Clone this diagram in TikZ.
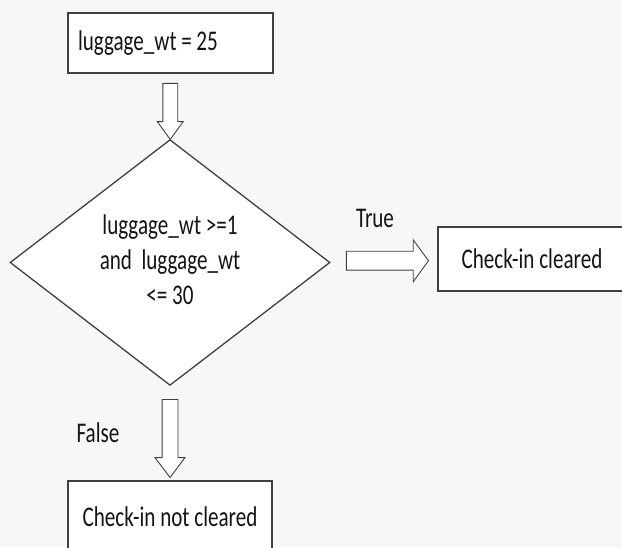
\documentclass[tikz,border=0pt]{standalone}
\usepackage{fontspec}
\setmainfont{Carlito}
\usepackage{xcolor}
\usetikzlibrary{positioning,calc,shapes.geometric,shapes.arrows}
\definecolor{bggray}{HTML}{F7F7F7}
\definecolor{linegray}{HTML}{404040}
\definecolor{textcol}{HTML}{141414}
% the lettering in the original is stretched upward
\newcommand{\tallt}[1]{\scalebox{1}[1.35]{#1}}

\begin{document}
\begin{tikzpicture}[x=1pt,y=1pt,
  font=\fontsize{21.1}{26}\selectfont,text=textcol,
  box/.style={draw=linegray,line width=1.3pt,fill=white,inner sep=0pt},
  decision/.style={diamond,draw=linegray,line width=1.3pt,fill=white,inner sep=0pt,
    minimum width=320pt,minimum height=240pt},
  blockarrow/.style={single arrow,draw=linegray,line width=0.9pt,fill=white,inner xsep=0pt}]
  \useasboundingbox (0,0) rectangle (622,547);
  \fill[bggray] (0,0) rectangle (622,547);
  \clip (0,0) rectangle (622,547);
  % boxes
  \node[box,minimum width=205pt,minimum height=60pt,text width=185pt,align=left]
        (wt) at (170.5,504) {\tallt{luggage\_wt\kern0.22em=\kern0.22em25}};
  \node[decision] (chk) at (170,284.5)
        {\tallt{\begin{tabular}{@{}c@{}}luggage\_wt >=1\\and\ \ luggage\_wt\\<= 30\end{tabular}}};
  \node[box,minimum width=188pt,minimum height=64pt] (ok) at (532,288) {\tallt{Check-in cleared}};
  \node[box,minimum width=204pt,minimum height=72pt] (notok) at (170,30) {\tallt{Check-in not cleared}};
  % hollow arrows between the boxes
  \node[blockarrow,rotate=-90,minimum height=56pt,inner ysep=7pt,
        single arrow head extend=5.5pt,single arrow tip angle=72]
        (a1) at ($(wt.south)!0.5!(chk.north)$) {};
  \node[blockarrow,minimum height=82pt,inner ysep=9pt,
        single arrow head extend=11.5pt,single arrow tip angle=108]
        (a2) at ($(chk.east)!0.5!(ok.west)$) {};
  \node[blockarrow,rotate=-90,minimum height=78pt,inner ysep=7.5pt,
        single arrow head extend=7pt,single arrow tip angle=74]
        (a3) at ($(chk.south)!0.5!(notok.north)$) {};
  % branch labels
  \node (true) at (375,329) {\tallt{True}};
  \node (false) at (98,114) {\tallt{False}};
\end{tikzpicture}
\end{document}
